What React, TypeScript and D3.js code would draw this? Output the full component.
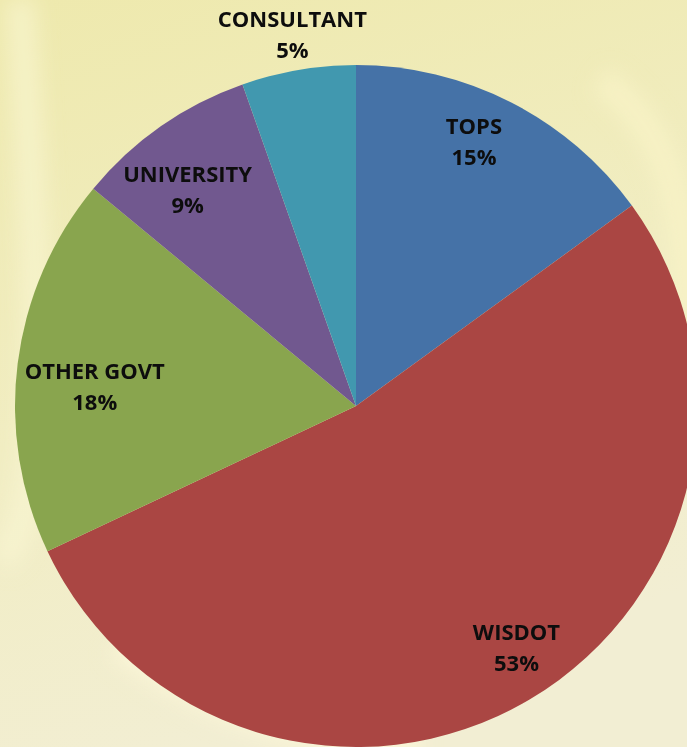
import { useEffect, useRef } from "react";
import * as d3 from "d3";

// Slices, clockwise from 12 o'clock
const categories = ["TOPS", "WISDOT", "OTHER GOVT", "UNIVERSITY", "CONSULTANT"];
const shares = [15, 53, 18, 8.6, 5.4];
const labels = ["15%", "53%", "18%", "9%", "5%"];
const colors = ["#4572a7", "#aa4643", "#89a54e", "#71588f", "#4198af"];

export default function App() {
    const svgRef = useRef<SVGSVGElement | null>(null);

    useEffect(() => {
        const width = 687;
        const height = 747;
        const cx = 356;
        const cy = 406;
        const radius = 341;
        const lineGap = 31;

        const svg = d3.select(svgRef.current)
            .attr("width", width)
            .attr("height", height);
        svg.selectAll("*").remove();

        // Background: pale yellow with soft light streaks
        const defs = svg.append("defs");
        const bg = defs.append("linearGradient")
            .attr("id", "bg")
            .attr("x1", 0).attr("y1", 0).attr("x2", 0.3).attr("y2", 1);
        bg.append("stop").attr("offset", "0%").attr("stop-color", "#eee9ad");
        bg.append("stop").attr("offset", "55%").attr("stop-color", "#f1edc2");
        bg.append("stop").attr("offset", "100%").attr("stop-color", "#f2eed3");

        defs.append("filter").attr("id", "soft")
            .append("feGaussianBlur").attr("stdDeviation", 10);

        svg.append("rect")
            .attr("width", width)
            .attr("height", height)
            .attr("fill", "url(#bg)");

        const streaks = svg.append("g").attr("filter", "url(#soft)").attr("fill", "none");
        streaks.append("path")
            .attr("d", "M0,560 C50,520 40,300 20,0")
            .attr("stroke", "#faf6d4").attr("stroke-width", 30).attr("opacity", 0.6);
        streaks.append("path")
            .attr("d", "M600,80 C660,120 690,200 687,320")
            .attr("stroke", "#f8f3c6").attr("stroke-width", 30).attr("opacity", 0.8);
        streaks.append("path")
            .attr("d", "M120,640 C200,700 300,740 420,747")
            .attr("stroke", "#fbf6d8").attr("stroke-width", 40).attr("opacity", 0.8);

        // Pie
        const pie = d3.pie<number>().sort(null).value(d => d);
        const arcs = pie(shares);
        const arc = d3.arc<d3.PieArcDatum<number>>().innerRadius(0).outerRadius(radius);

        const g = svg.append("g").attr("transform", `translate(${cx},${cy})`);

        g.selectAll("path.slice")
            .data(arcs)
            .enter()
            .append("path")
            .attr("class", "slice")
            .attr("d", arc)
            .attr("fill", (_, i) => colors[i]);

        const lab = g.selectAll("g.lab")
            .data(arcs)
            .enter()
            .append("g")
            .attr("class", "lab")
            .attr("font-family", "'Open Sans', sans-serif")
            .attr("font-weight", 700)
            .attr("font-size", 22)
            .attr("fill", "#0d0d0d")
            .attr("text-anchor", "middle");

        lab.append("text")
            .attr("y", -7.5)
            .text((_, i) => categories[i]);
        lab.append("text")
            .attr("y", -7.5 + lineGap)
            .text((_, i) => labels[i]);

        // Place labels: small slices outside, others inside, pulled in until the box fits
        const skew = (3 * Math.PI) / 180;
        lab.attr("transform", function (d) {
            const mid = (d.startAngle + d.endAngle) / 2;
            if (d.value < 6) {
                const r = 377;
                return `translate(${r * Math.sin(mid)},${-r * Math.cos(mid)})`;
            }
            const a = mid - skew;
            const box = (this as SVGGElement).getBBox();
            const hw = box.width / 2;
            const hh = 23.5;
            const limit = radius - 6;
            let r = 290;
            for (; r > 0; r -= 2) {
                const x = r * Math.sin(a);
                const y = -r * Math.cos(a);
                const fits = [[-hw, -hh], [hw, -hh], [-hw, hh], [hw, hh]]
                    .every(([dx, dy]) => Math.hypot(x + dx, y + dy) <= limit);
                if (fits) break;
            }
            return `translate(${r * Math.sin(a)},${-r * Math.cos(a)})`;
        });
    }, []);

    return (
        <svg
            ref={svgRef}
            style={{ position: "absolute", left: 0, top: 0, display: "block" }}
        />
    );
}
